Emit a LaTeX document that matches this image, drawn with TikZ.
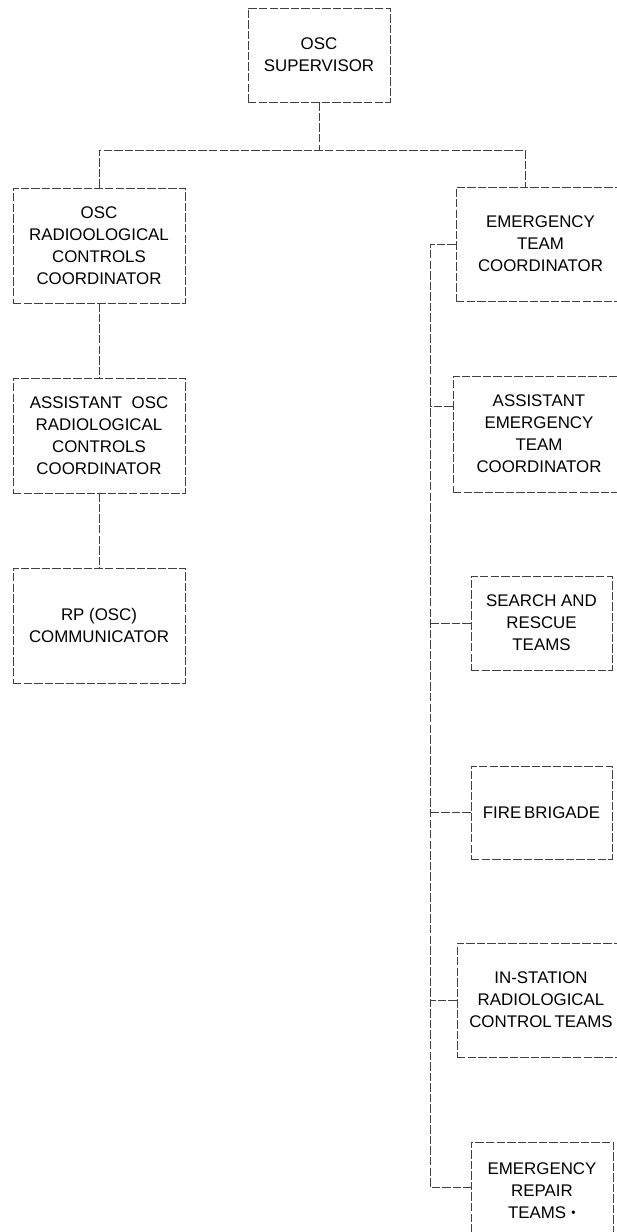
\documentclass[tikz,border=0pt]{standalone}
\usepackage{fontspec}
\setmainfont{Liberation Sans}

\tikzstyle{box}=[draw=black!75,line width=0.5pt,dash pattern=on 6pt off 1.5pt,rectangle,inner sep=0pt,align=center,font=\fontsize{12}{15.6}\selectfont]
\tikzstyle{edge} = [draw=black!75,line width=0.5pt,dash pattern=on 6pt off 1.5pt,-]
\tikzset{boxsize/.style 2 args={minimum width=#1*0.025cm,minimum height=#2*0.025cm}}

\begin{document}
\begin{tikzpicture}[x=0.025cm,y=-0.025cm]
    \useasboundingbox (0,0) rectangle (617,1232);
    % Supervisor on top
    \node[box,boxsize={142}{94}] (sup) at (319,55) {OSC\\SUPERVISOR};
    % Left column: radiological controls
    \foreach \pos/\name/\txt in {{(99,245.5)/rcc/{OSC\\RADIOOLOGICAL\\CONTROLS\\COORDINATOR}},
                                 {(99,435.5)/arcc/{ASSISTANT\ \ OSC\\RADIOLOGICAL\\CONTROLS\\COORDINATOR}},
                                 {(99,625.5)/rp/{RP (OSC)\\COMMUNICATOR}}}
        \node[box,boxsize={172}{115}] (\name) at \pos {\txt};
    % Right column: emergency teams
    \foreach \pos/\name/\w/\h/\txt in {{(540.5,244)/etc/169/114/{EMERGENCY\\TEAM\\COORDINATOR}},
                                       {(539,434)/aetc/172/116/{ASSISTANT\\EMERGENCY\\TEAM\\COORDINATOR}},
                                       {(541.5,623)/sar/141/94/{SEARCH AND\\RESCUE\\TEAMS}},
                                       {(541.5,812.5)/fire/141/93/{FIRE\,BRIGADE}},
                                       {(541,1000)/isrc/168/114/{IN-STATION\\RADIOLOGICAL\\CONTROL\,TEAMS}},
                                       {(542,1191)/ert/142/98/{EMERGENCY\\REPAIR\\TEAMS \raisebox{0.5ex}{\tiny$\bullet$}}}}
        \node[box,boxsize={\w}{\h}] (\name) at \pos {\txt};
    % Bus under the supervisor and the spine of the right column
    \coordinate (busL) at (99,150);
    \coordinate (busR) at (525,150);
    \coordinate (spineTop) at (430,244);
    \coordinate (spineBot) at (430,1187);
    \path[edge] (sup.south) -- (sup.south |- busL);
    \path[edge] (rcc.north) -- (busL) -- (busR) -- (busR |- etc.north);
    \foreach \source/\dest in {rcc/arcc,arcc/rp}
        \path[edge] (\source) -- (\dest);
    \path[edge] (etc.west) -- (spineTop) -- (spineBot) -- (spineBot -| ert.west);
    \path[edge] ([yshift=0.68cm]aetc.west) -- ([yshift=0.68cm]aetc.west -| spineTop);
    \foreach \dest in {sar,fire,isrc}
        \path[edge] (\dest.west) -- (\dest.west -| spineTop);
\end{tikzpicture}
\end{document}
